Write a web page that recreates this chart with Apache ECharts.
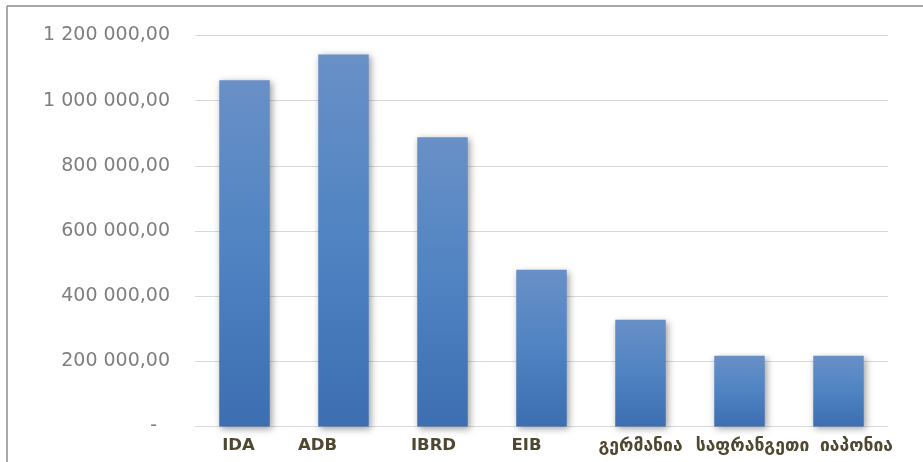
<!DOCTYPE html>
<html>
<head>
<meta charset="utf-8">
<script src="https://cdn.jsdelivr.net/npm/echarts@6/dist/echarts.min.js"></script>
<style>
html,body{margin:0;padding:0;background:#fff;}
#c{width:923px;height:462px;}
</style>
</head>
<body>
<div id="c"></div>
<script>
const categories = ['IDA', 'ADB', 'IBRD', 'EIB', 'გერმანია', 'საფრანგეთი', 'იაპონია'];
const values = [1063000, 1142000, 888000, 481000, 328000, 217000, 217000];
const yTicks = [0, 200000, 400000, 600000, 800000, 1000000, 1200000];

// label shift styles per category (rich text keys)
const labelStyleKeys = ['l12', 'l52', 'l18', 'l30', 'c', 'r26', 'r36'];

function fmtNum(v) {
  if (v === 0) return '{z|-}';
  const s = Math.round(v).toString().replace(/\B(?=(\d{3})+(?!\d))/g, ' ');
  return s + ',00';
}

const chart = echarts.init(document.getElementById('c'), null, {renderer: 'canvas'});
const catFont = {fontFamily: 'DejaVu Sans', fontWeight: 'bold', fontSize: 16.5, color: '#4f4831'};
const geoFont = {fontFamily: 'DejaVu Sans', fontWeight: 'bold', fontSize: 17.5, color: '#4f4831'};
chart.setOption({
  animation: false,
  backgroundColor: '#fff',
  grid: {left: 195, right: 35, top: 35.5, bottom: 35.5, containLabel: false},
  xAxis: {
    type: 'category',
    data: categories,
    axisLine: {show: true, lineStyle: {color: '#d9d9d9', width: 1}},
    axisTick: {show: false},
    axisLabel: {
      margin: 11,
      interval: 0,
      formatter: function (v, i) { return '{' + labelStyleKeys[i] + '|' + v + '}'; },
      rich: {
        l12: Object.assign({padding: [0, 12, 0, 0]}, catFont),
        l52: Object.assign({padding: [0, 52, 0, 0]}, catFont),
        l18: Object.assign({padding: [0, 18, 0, 0]}, catFont),
        l30: Object.assign({padding: [0, 30, 0, 0]}, catFont),
        c: Object.assign({}, geoFont),
        r26: Object.assign({padding: [0, 0, 0, 26]}, geoFont),
        r36: Object.assign({padding: [0, 0, 0, 36]}, geoFont)
      }
    }
  },
  yAxis: {
    type: 'value',
    min: yTicks[0],
    max: yTicks[yTicks.length - 1],
    interval: yTicks[1] - yTicks[0],
    axisLine: {show: false},
    axisTick: {show: false},
    splitLine: {lineStyle: {color: '#d9d9d9', width: 1}},
    axisLabel: {
      margin: 25,
      fontFamily: 'DejaVu Sans',
      fontSize: 19,
      color: '#7f7f7f',
      formatter: fmtNum,
      rich: {z: {fontFamily: 'DejaVu Sans', fontSize: 19, color: '#7f7f7f', padding: [0, 13, 0, 0]}}
    }
  },
  series: [{
    type: 'bar',
    data: values,
    barWidth: '51%',
    itemStyle: {
      color: new echarts.graphic.LinearGradient(0, 0, 0, 1, [
        {offset: 0, color: '#6990c7'},
        {offset: 0.5, color: '#4f83c2'},
        {offset: 1, color: '#3c6eb1'}
      ]),
      shadowColor: 'rgba(0,0,0,0.38)',
      shadowBlur: 7,
      shadowOffsetX: 2,
      shadowOffsetY: 2
    }
  }],
  graphic: [
    {type: 'line', shape: {x1: 7, y1: 6, x2: 923, y2: 6}, style: {stroke: '#8c8c8c', lineWidth: 1.5}, silent: true},
    {type: 'line', shape: {x1: 7, y1: 6, x2: 7, y2: 462}, style: {stroke: '#8c8c8c', lineWidth: 1.5}, silent: true}
  ]
});
</script>
</body>
</html>
